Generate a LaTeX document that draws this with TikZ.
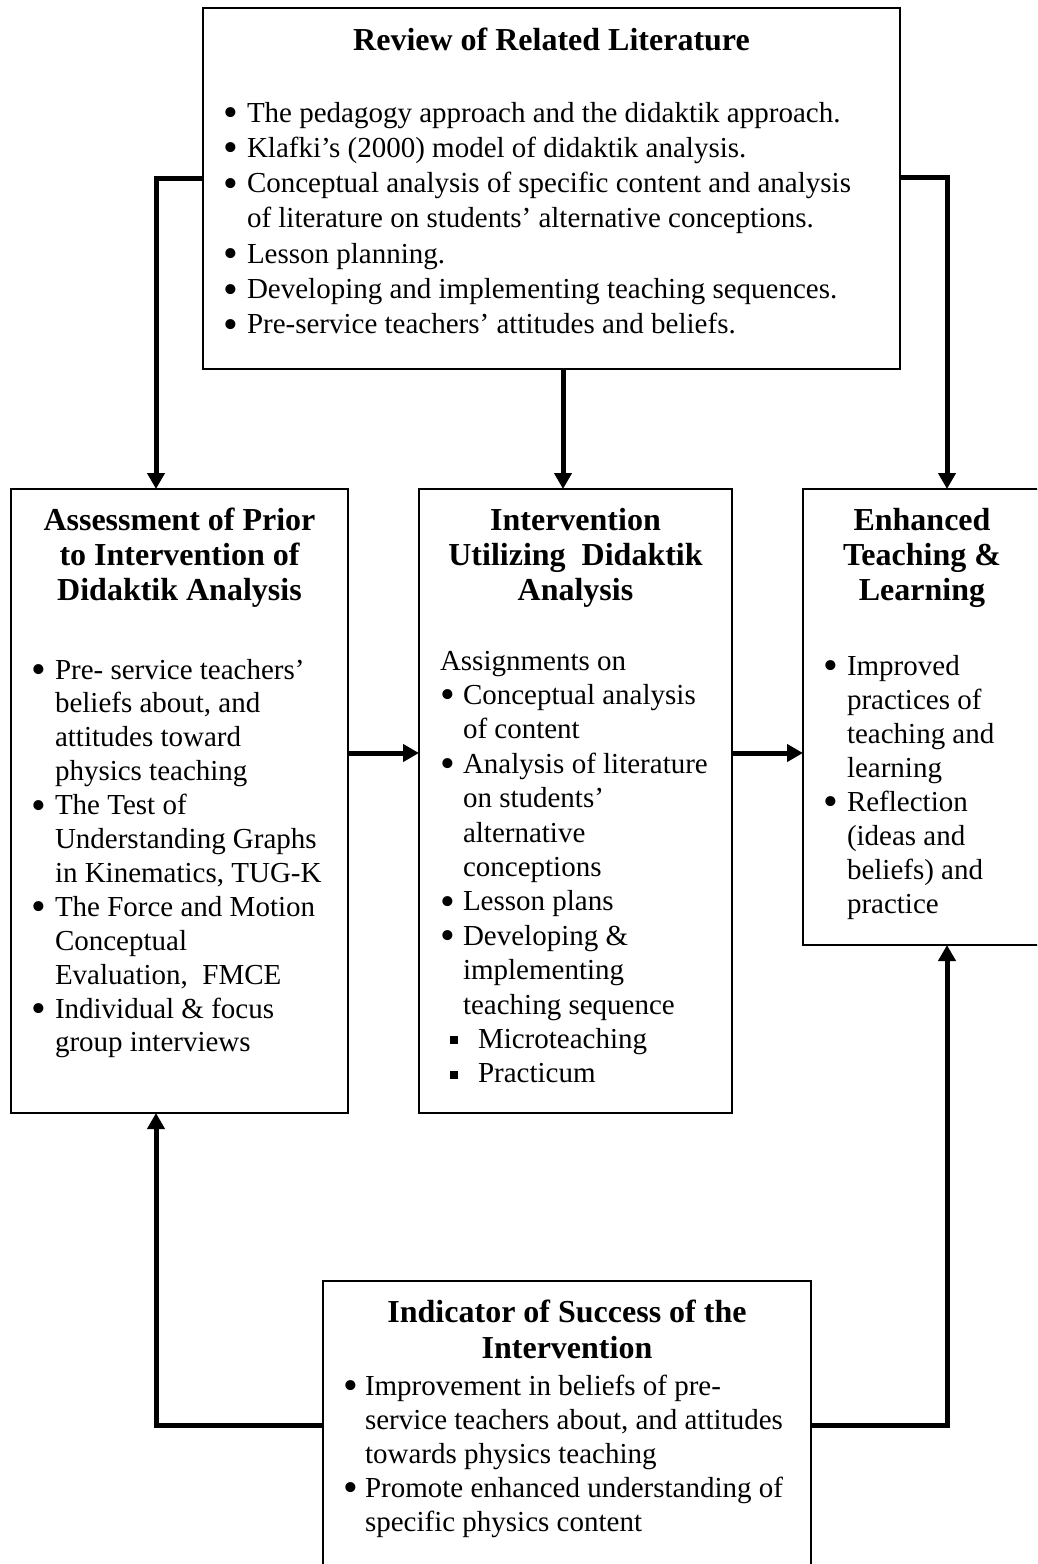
\documentclass[tikz,border=0pt]{standalone}
\usepackage{fontspec}
\setmainfont{Liberation Serif}
\usetikzlibrary{arrows.meta}
\newcommand\bodyfont{\fontsize{29}{34}\selectfont}
\newcommand\headfont{\fontsize{32}{35}\selectfont\bfseries}
\newcommand\bigdot{\smash{\hspace*{-1.5pt}\raisebox{-4.5pt}{\scalebox{1.45}{\textbullet}}}}
\newcommand\BI[2]{\hbox{\makebox[#1][l]{\bigdot}#2}}
\newcommand\CL[2]{\hbox{\hspace*{#1}#2}}
\newcommand\SQ[3]{\hbox{\hspace*{#1}\makebox[#2][l]{\rule[4pt]{8pt}{8pt}}#3}}
\begin{document}
\begin{tikzpicture}[x=1pt,y=-1pt,
  box/.style={draw, line width=1.3pt, anchor=north west, inner sep=0pt, outer sep=0pt},
  txt/.style={anchor=base west, inner sep=0pt, outer sep=0pt, font=\bodyfont},
  hd/.style={anchor=base west, inner sep=0pt, outer sep=0pt},
  arr/.style={line width=5pt, -{Triangle[width=17pt,length=16pt]}}]
\useasboundingbox (0,0) rectangle (1037,1564);
\clip (0,0) rectangle (1037,1564);
% boxes
\node[box, minimum width=697pt, minimum height=361pt] (top) at (203,8) {};
\node[box, minimum width=337pt, minimum height=624pt] (left) at (11,489) {};
\node[box, minimum width=313pt, minimum height=624pt] (mid) at (419,489) {};
\node[box, minimum width=238pt, minimum height=456pt] (right) at (803,489) {};
\node[box, minimum width=488pt, minimum height=330pt] (bot) at (323,1281) {};
% headings
\node[hd] (toph) at (203,50) {\parbox[t]{697pt}{\headfont\centering Review of Related Literature}};
\node[hd] (lefth) at (11,530) {\parbox[t]{337pt}{\headfont\centering Assessment of Prior\\to Intervention of\\Didaktik Analysis}};
\node[hd] (midh) at (419,530) {\parbox[t]{313pt}{\headfont\centering Intervention\\Utilizing\ \ Didaktik\\Analysis}};
\node[hd] (righth) at (803,530) {\parbox[t]{238pt}{\headfont\centering Enhanced\\Teaching \&\\Learning}};
\node[hd] (both) at (323,1322) {\parbox[t]{488pt}{\headfont\baselineskip=36pt\centering Indicator of Success of the\\Intervention}};
% body texts
\node[txt] (topl) at (225,122) {\vtop{\baselineskip=35.3pt\lineskiplimit=-100pt
  \BI{22pt}{The pedagogy approach and the didaktik approach.}
  \BI{22pt}{Klafki’s (2000) model of didaktik analysis.}
  \BI{22pt}{Conceptual analysis of specific content and analysis}
  \CL{22pt}{of literature on students’ alternative conceptions.}
  \BI{22pt}{Lesson planning.}
  \BI{22pt}{Developing and implementing teaching sequences.}
  \BI{22pt}{Pre-service teachers’ attitudes and beliefs.}}};
\node[txt] (leftl) at (33,679) {\vtop{\baselineskip=33.9pt\lineskiplimit=-100pt
  \BI{22pt}{Pre- service teachers’}
  \CL{22pt}{beliefs about, and}
  \CL{22pt}{attitudes toward}
  \CL{22pt}{physics teaching}
  \BI{22pt}{The Test of}
  \CL{22pt}{Understanding Graphs}
  \CL{22pt}{in Kinematics, TUG-K}
  \BI{22pt}{The Force and Motion}
  \CL{22pt}{Conceptual}
  \CL{22pt}{Evaluation,\ \ FMCE}
  \BI{22pt}{Individual \& focus}
  \CL{22pt}{group interviews}}};
\node[txt] (midl) at (440,670) {\vtop{\baselineskip=34.4pt\lineskiplimit=-100pt
  \hbox{Assignments on}
  \hbox{\hspace*{2pt}\makebox[21pt][l]{\bigdot}Conceptual analysis}
  \CL{23pt}{of content}
  \hbox{\hspace*{2pt}\makebox[21pt][l]{\bigdot}Analysis of literature}
  \CL{23pt}{on students’}
  \CL{23pt}{alternative}
  \CL{23pt}{conceptions}
  \hbox{\hspace*{2pt}\makebox[21pt][l]{\bigdot}Lesson plans}
  \hbox{\hspace*{2pt}\makebox[21pt][l]{\bigdot}Developing \&}
  \CL{23pt}{implementing}
  \CL{23pt}{teaching sequence}
  \SQ{10pt}{28pt}{Microteaching}
  \SQ{10pt}{28pt}{Practicum}}};
\node[txt] (rightl) at (825,675) {\vtop{\baselineskip=34pt\lineskiplimit=-100pt
  \BI{22pt}{Improved}
  \CL{22pt}{practices of}
  \CL{22pt}{teaching and}
  \CL{22pt}{learning}
  \BI{22pt}{Reflection}
  \CL{22pt}{(ideas and}
  \CL{22pt}{beliefs) and}
  \CL{22pt}{practice}}};
\node[txt] (botl) at (345,1395) {\vtop{\baselineskip=34pt\lineskiplimit=-100pt
  \BI{20pt}{Improvement in beliefs of pre-}
  \CL{20pt}{service teachers about, and attitudes}
  \CL{20pt}{towards physics teaching}
  \BI{20pt}{Promote enhanced understanding of}
  \CL{20pt}{specific physics content}}};
% connectors
\coordinate (c1) at (156,178);
\coordinate (c2) at (947,177);
\coordinate (m) at (563,0);
\coordinate (h) at (0,753);
\coordinate (c3) at (156,1425);
\coordinate (c4) at (947,1425);
\draw[arr] (top.west |- c1) -| (left.north -| c1);
\draw[arr] (top.south -| m) -- (mid.north -| m);
\draw[arr] (top.east |- c2) -| (right.north -| c2);
\draw[arr] (left.east |- h) -- (mid.west |- h);
\draw[arr] (mid.east |- h) -- (right.west |- h);
\draw[arr] (bot.west |- c3) -| (left.south -| c3);
\draw[arr] (bot.east |- c4) -| (right.south -| c4);
\end{tikzpicture}
\end{document}
